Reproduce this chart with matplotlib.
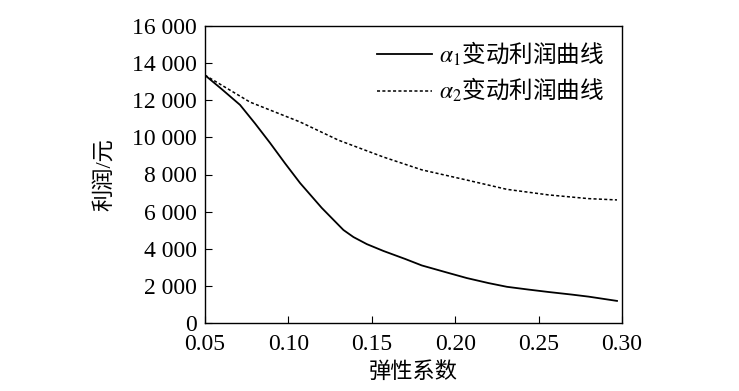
import matplotlib
matplotlib.use('Agg')
import matplotlib.pyplot as plt

plt.rcParams['font.family'] = ['Liberation Serif', 'Noto Sans CJK SC']
plt.rcParams['mathtext.fontset'] = 'stix'

# Data
x_a1 = [0.050, 0.060, 0.071, 0.080, 0.089, 0.098, 0.107, 0.120, 0.133, 0.139, 0.147, 0.157,
        0.170, 0.180, 0.195, 0.207, 0.220, 0.231, 0.244, 0.256, 0.270, 0.280, 0.297]
y_a1 = [13350, 12600, 11750, 10750, 9700, 8600, 7540, 6200, 5010, 4630, 4250, 3880,
        3450, 3100, 2720, 2420, 2150, 1950, 1800, 1670, 1530, 1420, 1190]

x_a2 = [0.050, 0.077, 0.107, 0.130, 0.157, 0.180, 0.207, 0.231, 0.256, 0.280, 0.297]
y_a2 = [13350, 11900, 10830, 9850, 8940, 8250, 7700, 7200, 6900, 6700, 6630]

labels = [r'$\alpha_1$变动利润曲线', r'$\alpha_2$变动利润曲线']

x_ticks = [0.05, 0.10, 0.15, 0.20, 0.25, 0.30]
x_ticklabels = ['0.05', '0.10', '0.15', '0.20', '0.25', '0.30']
y_ticks = [0, 2000, 4000, 6000, 8000, 10000, 12000, 14000, 16000]
y_ticklabels = ['0', '2 000', '4 000', '6 000', '8 000', '10 000', '12 000', '14 000', '16 000']

fig = plt.figure(figsize=(7.39, 3.91), dpi=100)
ax = fig.add_axes([205 / 739, 68 / 391, 417 / 739, 297 / 391])

ax.plot(x_a1, y_a1, color='black', linewidth=1.3, label=labels[0])
ax.plot(x_a2, y_a2, color='black', linewidth=1.1, linestyle=(0, (2, 1.5)), label=labels[1])

ax.set_xlim(0.05, 0.30)
ax.set_ylim(0, 16000)
ax.set_xticks(x_ticks)
ax.set_xticklabels(x_ticklabels)
ax.set_yticks(y_ticks)
ax.set_yticklabels(y_ticklabels)
ax.tick_params(direction='in', length=5, width=0.8, labelsize=17)
ax.tick_params(axis='x', pad=8)
ax.tick_params(axis='y', pad=6)

for s in ax.spines.values():
    s.set_linewidth(1.0)

ax.set_xlabel('弹性系数', fontsize=16, labelpad=5)
ax.set_ylabel('利润/元', fontsize=16, labelpad=12)

ax.legend(loc='upper right', frameon=False, handlelength=2.3,
          prop={'family': 'Noto Sans CJK SC', 'size': 17},
          handletextpad=0.3, labelspacing=0.35, borderaxespad=0.1,
          bbox_to_anchor=(0.985, 0.995))

plt.savefig('out.png', dpi=100)
